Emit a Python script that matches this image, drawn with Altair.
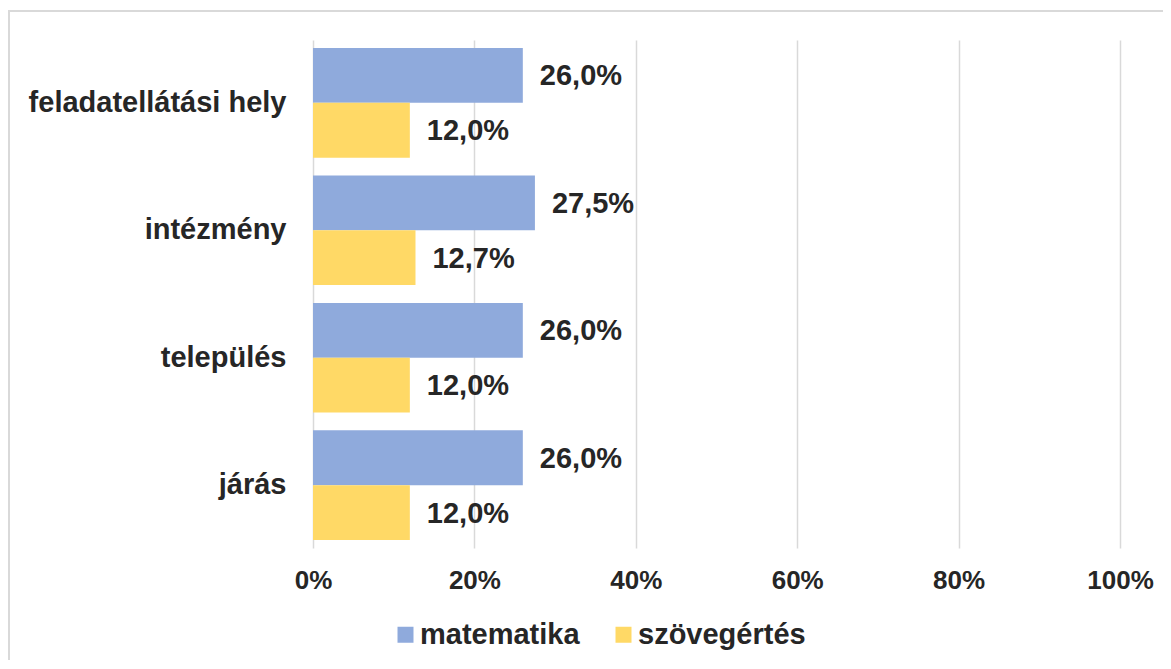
import altair as alt
import pandas as pd

categories = ["feladatellátási hely", "intézmény", "település", "járás"]
series = ["matematika", "szövegértés"]
matematika = [26.0, 27.5, 26.0, 26.0]
szovegertes = [12.0, 12.7, 12.0, 12.0]
x_ticks = [0, 0.2, 0.4, 0.6, 0.8, 1.0]
colors = ["#8FAADC", "#FFD966"]

FONT = "Liberation Sans"
TXT = "#262626"
GRID = "#d9d9d9"
W, H = 807, 508

rows = []
for c, m, s in zip(categories, matematika, szovegertes):
    for name, v in (("matematika", m), ("szövegértés", s)):
        rows.append({"cat": c, "series": name, "value": v / 100.0,
                     "label": f"{v:.1f}%".replace(".", ",")})
df = pd.DataFrame(rows)

y_enc = alt.Y("cat:N", sort=categories,
              scale=alt.Scale(paddingInner=0.14, paddingOuter=0.063),
              axis=alt.Axis(title=None, domain=False, ticks=False, labelPadding=27,
                            labelFontSize=29, labelFont=FONT, labelFontWeight="bold",
                            labelColor=TXT, labelLimit=400))
yoff_enc = alt.YOffset("series:N", sort=series,
                       scale=alt.Scale(paddingInner=0, paddingOuter=0))
x_enc = alt.X("value:Q", scale=alt.Scale(domain=[0, 1], nice=False),
              axis=alt.Axis(title=None, values=x_ticks, format=".0%", domain=False,
                            ticks=False, grid=True, gridColor=GRID, gridWidth=1.5,
                            labelPadding=19, labelFontSize=26, labelFont=FONT,
                            labelFontWeight="bold", labelColor=TXT, labelFlush=False))

bars = alt.Chart(df).mark_bar(strokeWidth=0).encode(
    y=y_enc, yOffset=yoff_enc, x=x_enc,
    color=alt.Color("series:N", sort=series,
                    scale=alt.Scale(domain=series, range=colors),
                    legend=alt.Legend(orient="none", legendX=78, legendY=580,
                                      direction="horizontal", title=None,
                                      symbolType="square", symbolSize=256,
                                      symbolStrokeWidth=0, labelFontSize=29,
                                      labelFont=FONT, labelFontWeight="bold",
                                      labelColor=TXT, labelOffset=0,
                                      columnPadding=29, padding=0, labelLimit=400)),
)

labels = alt.Chart(df).mark_text(align="left", baseline="middle", dx=17, dy=1,
                                 font=FONT, fontWeight="bold", fontSize=29,
                                 color=TXT).encode(
    y=alt.Y("cat:N", sort=categories), yOffset=alt.YOffset("series:N", sort=series),
    x="value:Q", text="label:N")

frame = alt.Chart(pd.DataFrame({"a": [0]})).mark_rect(
    filled=False, stroke=GRID, strokeWidth=2).encode(
    x=alt.value(-304), x2=alt.value(W + 300), y=alt.value(-29), y2=alt.value(H + 300))

chart = alt.layer(frame, bars, labels).properties(
    width=W, height=H,
    autosize=alt.AutoSizeParams(type="none"),
    padding={"left": 305, "top": 32, "right": 43, "bottom": 112},
).configure_view(stroke=None)

chart.save("out.html", embed_options={"renderer": "svg", "actions": False})
